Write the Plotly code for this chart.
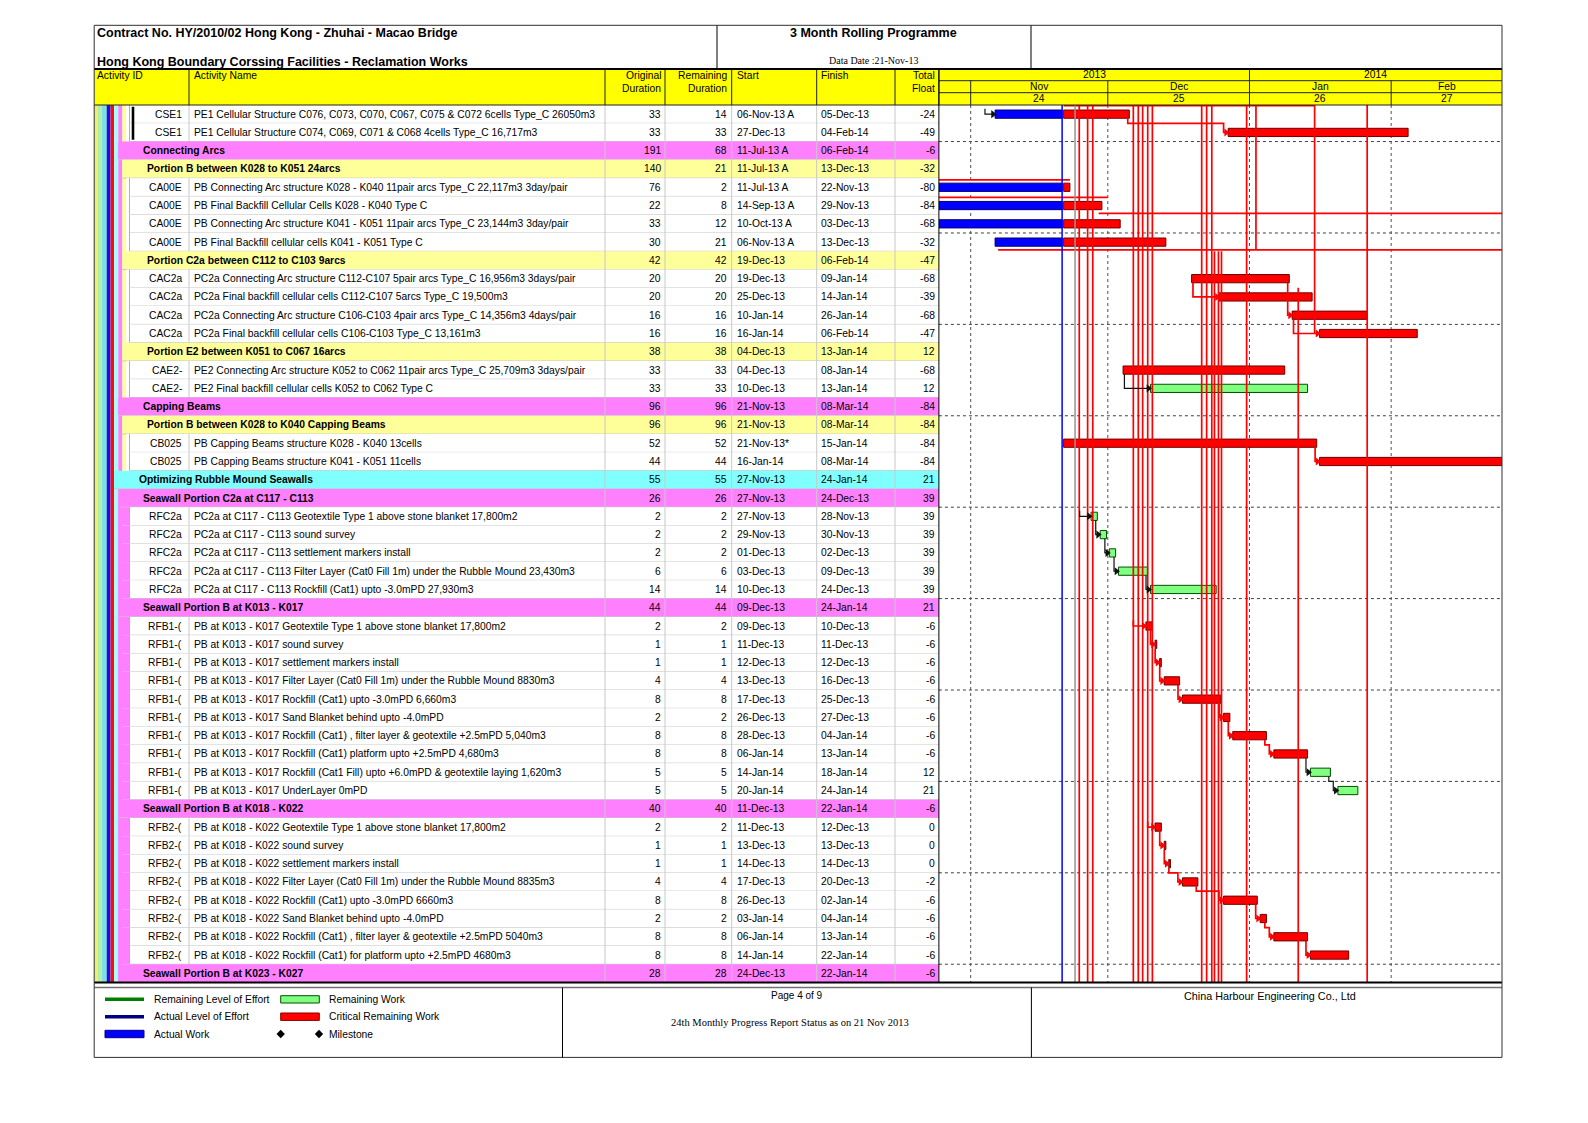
import plotly.graph_objects as go
import pandas as pd

# ---------------------------------------------------------------- DATA
activity_ids = (["CSE1", "CSE1", "", "", "CA00E", "CA00E", "CA00E", "CA00E", "",
                 "CAC2a", "CAC2a", "CAC2a", "CAC2a", "", "CAE2-", "CAE2-", "", "",
                 "CB025", "CB025", "", "", "RFC2a", "RFC2a", "RFC2a", "RFC2a", "RFC2a", ""]
                + ["RFB1-("] * 10 + [""] + ["RFB2-("] * 8 + [""])

activity_names = [
    "PE1 Cellular Structure C076, C073, C070, C067, C075 & C072 6cells Type_C 26050m3",
    "PE1 Cellular Structure C074, C069, C071 & C068 4cells Type_C 16,717m3",
    "Connecting Arcs",
    "Portion B between K028 to K051 24arcs",
    "PB Connecting Arc structure K028 - K040 11pair arcs Type_C 22,117m3 3day/pair",
    "PB Final Backfill Cellular Cells K028 - K040 Type C",
    "PB Connecting Arc structure K041 - K051 11pair arcs Type_C 23,144m3 3day/pair",
    "PB Final Backfill cellular cells K041 - K051 Type C",
    "Portion C2a between C112 to C103 9arcs",
    "PC2a Connecting Arc structure C112-C107 5pair arcs Type_C 16,956m3 3days/pair",
    "PC2a Final backfill cellular cells C112-C107 5arcs Type_C 19,500m3",
    "PC2a Connecting Arc structure C106-C103 4pair arcs Type_C 14,356m3 4days/pair",
    "PC2a Final backfill cellular cells C106-C103 Type_C 13,161m3",
    "Portion E2 between K051 to C067 16arcs",
    "PE2 Connecting Arc structure K052 to C062 11pair arcs Type_C 25,709m3 3days/pair",
    "PE2 Final backfill cellular cells K052 to C062 Type C",
    "Capping Beams",
    "Portion B between K028 to K040 Capping Beams",
    "PB Capping Beams structure K028 - K040 13cells",
    "PB Capping Beams structure K041 - K051 11cells",
    "Optimizing Rubble Mound Seawalls",
    "Seawall Portion C2a at C117 - C113",
    "PC2a at C117 - C113 Geotextile Type 1 above stone blanket 17,800m2",
    "PC2a at C117 - C113 sound survey",
    "PC2a at C117 - C113 settlement markers install",
    "PC2a at C117 - C113 Filter Layer (Cat0 Fill 1m) under the Rubble Mound 23,430m3",
    "PC2a at C117 - C113 Rockfill (Cat1) upto -3.0mPD 27,930m3",
    "Seawall Portion B at K013 - K017",
    "PB at K013 - K017 Geotextile Type 1 above stone blanket 17,800m2",
    "PB at K013 - K017 sound survey",
    "PB at K013 - K017 settlement markers install",
    "PB at K013 - K017 Filter Layer (Cat0 Fill 1m) under the Rubble Mound 8830m3",
    "PB at K013 - K017 Rockfill (Cat1) upto -3.0mPD 6,660m3",
    "PB at K013 - K017 Sand Blanket behind upto -4.0mPD",
    "PB at K013 - K017 Rockfill (Cat1) , filter layer & geotextile +2.5mPD 5,040m3",
    "PB at K013 - K017 Rockfill (Cat1) platform upto +2.5mPD 4,680m3",
    "PB at K013 - K017 Rockfill (Cat1 Fill) upto +6.0mPD & geotextile laying 1,620m3",
    "PB at K013 - K017 UnderLayer 0mPD",
    "Seawall Portion B at K018 - K022",
    "PB at K018 - K022 Geotextile Type 1 above stone blanket 17,800m2",
    "PB at K018 - K022 sound survey",
    "PB at K018 - K022 settlement markers install",
    "PB at K018 - K022 Filter Layer (Cat0 Fill 1m) under the Rubble Mound 8835m3",
    "PB at K018 - K022 Rockfill (Cat1) upto -3.0mPD 6660m3",
    "PB at K018 - K022 Sand Blanket behind upto -4.0mPD",
    "PB at K018 - K022 Rockfill (Cat1) , filter layer & geotextile +2.5mPD 5040m3",
    "PB at K018 - K022 Rockfill (Cat1) for platform upto +2.5mPD 4680m3",
    "Seawall Portion B at K023 - K027",
]

row_kinds = (["act", "act", "mag", "yel", "act", "act", "act", "act", "yel", "act", "act", "act", "act",
              "yel", "act", "act", "mag", "yel", "act", "act", "cyan", "mag",
              "act", "act", "act", "act", "act", "mag"]
             + ["act"] * 10 + ["mag"] + ["act"] * 8 + ["mag"])

original_durations = [33, 33, 191, 140, 76, 22, 33, 30, 42, 20, 20, 16, 16, 38, 33, 33, 96, 96, 52, 44,
                      55, 26, 2, 2, 2, 6, 14, 44, 2, 1, 1, 4, 8, 2, 8, 8, 5, 5, 40, 2, 1, 1, 4, 8, 2, 8, 8, 28]
remaining_durations = [14, 33, 68, 21, 2, 8, 12, 21, 42, 20, 20, 16, 16, 38, 33, 33, 96, 96, 52, 44,
                       55, 26, 2, 2, 2, 6, 14, 44, 2, 1, 1, 4, 8, 2, 8, 8, 5, 5, 40, 2, 1, 1, 4, 8, 2, 8, 8, 28]
start_labels = ["06-Nov-13 A", "27-Dec-13", "11-Jul-13 A", "11-Jul-13 A", "11-Jul-13 A", "14-Sep-13 A",
                "10-Oct-13 A", "06-Nov-13 A", "19-Dec-13", "19-Dec-13", "25-Dec-13", "10-Jan-14", "16-Jan-14",
                "04-Dec-13", "04-Dec-13", "10-Dec-13", "21-Nov-13", "21-Nov-13", "21-Nov-13*", "16-Jan-14",
                "27-Nov-13", "27-Nov-13", "27-Nov-13", "29-Nov-13", "01-Dec-13", "03-Dec-13", "10-Dec-13",
                "09-Dec-13", "09-Dec-13", "11-Dec-13", "12-Dec-13", "13-Dec-13", "17-Dec-13", "26-Dec-13",
                "28-Dec-13", "06-Jan-14", "14-Jan-14", "20-Jan-14", "11-Dec-13", "11-Dec-13", "13-Dec-13",
                "14-Dec-13", "17-Dec-13", "26-Dec-13", "03-Jan-14", "06-Jan-14", "14-Jan-14", "24-Dec-13"]
finish_labels = ["05-Dec-13", "04-Feb-14", "06-Feb-14", "13-Dec-13", "22-Nov-13", "29-Nov-13", "03-Dec-13",
                 "13-Dec-13", "06-Feb-14", "09-Jan-14", "14-Jan-14", "26-Jan-14", "06-Feb-14", "13-Jan-14",
                 "08-Jan-14", "13-Jan-14", "08-Mar-14", "08-Mar-14", "15-Jan-14", "08-Mar-14", "24-Jan-14",
                 "24-Dec-13", "28-Nov-13", "30-Nov-13", "02-Dec-13", "09-Dec-13", "24-Dec-13", "24-Jan-14",
                 "10-Dec-13", "11-Dec-13", "12-Dec-13", "16-Dec-13", "25-Dec-13", "27-Dec-13", "04-Jan-14",
                 "13-Jan-14", "18-Jan-14", "24-Jan-14", "22-Jan-14", "12-Dec-13", "13-Dec-13", "14-Dec-13",
                 "20-Dec-13", "02-Jan-14", "04-Jan-14", "13-Jan-14", "22-Jan-14", "22-Jan-14"]
total_floats = [-24, -49, -6, -32, -80, -84, -68, -32, -47, -68, -39, -68, -47, 12, -68, 12, -84, -84, -84, -84,
                21, 39, 39, 39, 39, 39, 39, 21, -6, -6, -6, -6, -6, -6, -6, -6, 12, 21, -6, 0, 0, 0, -2, -6,
                -6, -6, -6, -6]

data_date_label = "21-Nov-13"
timeline_window = ["2013-10-25 01:00", "2014-02-25 06:00"]
year_labels = ["2013", "2014"]
month_labels = ["Nov", "Dec", "Jan", "Feb"]
month_numbers = ["24", "25", "26", "27"]
month_firsts = ["2013-11-01", "2013-12-01", "2014-01-01", "2014-02-01", "2014-03-01"]

# relationships (1-based row numbers on this page)
link_pairs = [(1, 2, "FS"), (10, 11, "SS"), (10, 12, "FS"), (12, 13, "SS"), (15, 16, "SS"), (19, 20, "FS"),
              (23, 24, "FS"), (24, 25, "FS"), (25, 26, "FS"), (26, 27, "FS"),
              (29, 30, "FS"), (30, 31, "FS"), (31, 32, "FS"), (32, 33, "FS"), (33, 34, "FS"), (34, 35, "FS"),
              (35, 36, "FS"), (36, 37, "FS"), (37, 38, "FS"),
              (40, 41, "FS"), (41, 42, "FS"), (42, 43, "FS"), (43, 44, "FS"), (44, 45, "FS"), (45, 46, "FS"),
              (46, 47, "FS")]
incoming_rows = [1, 23, 29, 40]
incoming_from = ["2013-11-04 03:00", "2013-11-24 20:00", "2013-12-06 14:00", "2013-12-09 17:30"]
incoming_driving = [False, False, True, True]
through_link_dates = ["2013-11-24 18:00", "2013-11-26 14:00", "2013-11-27 17:00",
                      "2013-12-06 14:00", "2013-12-07 16:00", "2013-12-08 15:00", "2013-12-09 17:30",
                      "2013-12-10 18:00", "2013-12-21 13:00", "2013-12-22 15:00", "2013-12-23 18:00",
                      "2013-12-24 08:00", "2013-12-25 05:00", "2013-12-25 21:00", "2013-12-31 09:00",
                      "2014-01-11 16:00", "2014-01-26 18:00", "2014-01-02 10:00", "2014-01-15 06:00"]
through_link_top = [0, 0, 0, 0, 0, 0, 0, 0, 0, 0, 0, 8, 8, 8, 0, 10, 0, 0, 0]
through_link_bottom = [48] * 17 + [7.93, 12.5]
grey_link_date = "2013-11-23 20:00"
offpage_link_rows = [0.04, 4.1, 5.05, 5.93, 7.93]
offpage_link_from = ["2013-11-21 08:00", "2013-10-25 01:00", "2013-10-25 01:00", "2013-11-29 00:00",
                     "2013-11-07 00:00"]
offpage_link_to = ["2014-01-15 06:00", "2013-11-22 17:00", "2013-12-01 00:00", "2014-02-25 06:00",
                   "2014-02-25 06:00"]

# ---------------------------------------------------------------- GEOMETRY / STYLE
W, H = 1588, 1123
OFF = 8.0  # page body margin of the html page
FONT = "Liberation Sans, Arial, sans-serif"
SERIF = "Liberation Serif, Times New Roman, serif"
FS_ = 10.3

LEFT, RIGHT, TOP, BOTTOM = 94.2, 1502.0, 25.3, 1057.4
HDR_TOP, ROW_TOP, ROW_BOT = 69.0, 105.0, 982.5
C_NAME, C_OD, C_RD, C_ST, C_FI, C_TF, C_GANTT = 189.0, 605.0, 665.0, 731.7, 816.7, 895.0, 938.9
BAND_EDGES = [94.2, 97.3, 101.7, 106.7, 110.5, 114.2, 118.3, 122.4, 126.2]
BAND_COLORS = ["#EEEE70", "#B0EEB0", "#80E0E0", "#1010F0", "#F01010", "#A0FFFF", "#FF80FF", "#FFFF99"]
CELL_X = 129.5
KIND_FILL = {"cyan": "#80FFFF", "mag": "#FF80FF", "yel": "#FFFF99"}
KIND_LEVEL = {"cyan": 5, "mag": 6, "yel": 7}
N = len(activity_names)


def X(px):
    return (px - OFF) / W


def Y(py):
    return 1 - (py - OFF) / H


def parse(lbl):
    return pd.to_datetime(lbl.replace(" A", "").replace("*", "").strip(), format="%d-%b-%y")


HOUR = pd.Timedelta(hours=1)
DAY = pd.Timedelta(days=1)
data_date = parse(data_date_label)
shapes, annots = [], []


def rect(x0, x1, y0, y1, fill, lc=None, lw=0, xref="paper", yref="paper", layer="below"):
    shapes.append(dict(type="rect", x0=x0, x1=x1, y0=y0, y1=y1, xref=xref, yref=yref, layer=layer,
                       fillcolor=fill, line=dict(color=lc or fill, width=lw)))


def line(x0, x1, y0, y1, color, width=1, dash="solid", xref="paper", yref="paper", layer="below"):
    shapes.append(dict(type="line", x0=x0, x1=x1, y0=y0, y1=y1, xref=xref, yref=yref, layer=layer,
                       line=dict(color=color, width=width, dash=dash)))


def text(x, y, s, anchor="left", size=FS_, bold=False, family=FONT, yref="paper", xref="paper", color="black"):
    s = s.replace("&", "&amp;")
    if bold:
        s = "<b>" + s + "</b>"
    annots.append(dict(x=x, y=y, xref=xref, yref=yref, text=s, showarrow=False, xanchor=anchor,
                       yanchor="middle", borderpad=0, font=dict(family=family, size=size, color=color)))


# ---------------------------------------------------------------- TABLE BODY
for b in range(8):
    last = 20 if b == 7 else N
    rect(X(BAND_EDGES[b]), X(BAND_EDGES[b + 1]), 0, last, BAND_COLORS[b], yref="y")

parent = "yel"
for i in range(N):
    k = row_kinds[i]
    if k == "act":
        if parent == "mag":
            rect(X(BAND_EDGES[6]), X(CELL_X), i, i + 1, "#FF80FF", yref="y")
            rect(X(CELL_X), X(C_GANTT), i, i + 1, "white", yref="y")
        else:
            rect(X(BAND_EDGES[8]), X(C_GANTT), i, i + 1, "white", yref="y")
        line(X(CELL_X), X(C_GANTT), i + 1, i + 1, "#C8C8C8", yref="y")
        line(X(CELL_X), X(CELL_X), i, i + 1, "#B0B0B0", yref="y")
        line(X(C_NAME), X(C_NAME), i, i + 1, "#C8C8C8", yref="y")
        text(X(183), i + 0.5, activity_ids[i], anchor="right", yref="y")
        text(X(192.5), i + 0.5, activity_names[i], yref="y")
    else:
        parent = k
        x0 = BAND_EDGES[KIND_LEVEL[k]]
        rect(X(x0), X(C_GANTT), i, i + 1, KIND_FILL[k], yref="y")
        line(X(x0), X(C_GANTT), i + 1, i + 1, "#C8C8C8", yref="y")
        text(X(x0 + 23.5), i + 0.5, activity_names[i], bold=True, yref="y")
    text(X(661.5), i + 0.5, str(original_durations[i]), anchor="right", yref="y")
    text(X(728), i + 0.5, str(remaining_durations[i]), anchor="right", yref="y")
    text(X(735.5), i + 0.5, start_labels[i], yref="y")
    text(X(820), i + 0.5, finish_labels[i], yref="y")
    text(X(936), i + 0.5, str(total_floats[i]), anchor="right", yref="y")

rect(X(131.7), X(134.3), 0.1, 1.9, "black", yref="y")
for cx in [C_OD, C_RD, C_ST, C_FI, C_TF]:
    line(X(cx), X(cx), 0, N, "#C8C8C8", yref="y")

# ---------------------------------------------------------------- HEADER & TITLE
rect(X(LEFT), X(RIGHT), Y(ROW_TOP), Y(HDR_TOP), "#FFFF00")
for cx in [C_NAME, C_OD, C_RD, C_ST, C_FI, C_TF, C_GANTT]:
    line(X(cx), X(cx), Y(ROW_TOP), Y(HDR_TOP), "#202020", 1, layer="above")
line(X(LEFT), X(RIGHT), Y(HDR_TOP), Y(HDR_TOP), "black", 2, layer="above")
line(X(LEFT), X(RIGHT), Y(ROW_TOP), Y(ROW_TOP), "#202020", 1, layer="above")
line(X(C_GANTT), X(RIGHT), Y(80.7), Y(80.7), "#202020", 1, layer="above")
line(X(C_GANTT), X(RIGHT), Y(92.7), Y(92.7), "#202020", 1, layer="above")

text(X(95.5), Y(76), "Activity ID")
text(X(193), Y(76), "Activity Name")
text(X(661.5), Y(76), "Original", anchor="right")
text(X(661.5), Y(88.5), "Duration", anchor="right")
text(X(728), Y(76), "Remaining", anchor="right")
text(X(728), Y(88.5), "Duration", anchor="right")
text(X(735.5), Y(76), "Start")
text(X(820), Y(76), "Finish")
text(X(936), Y(76), "Total", anchor="right")
text(X(936), Y(88.5), "Float", anchor="right")

# timescale header
win0, win1 = pd.Timestamp(timeline_window[0]), pd.Timestamp(timeline_window[1])
mf = [pd.Timestamp(m) for m in month_firsts]
year_split = mf[2]
for lbl, a, b in zip(year_labels, [win0, year_split], [year_split, win1]):
    text(a + (b - a) / 2, Y(75), lbl, anchor="center", xref="x")
line(year_split, year_split, Y(80.7), Y(HDR_TOP), "#202020", 1, xref="x", layer="above")
for j in range(4):
    a, b = max(mf[j], win0), min(mf[j + 1], win1)
    text(a + (b - a) / 2, Y(86.8), month_labels[j], anchor="center", xref="x")
    text(a + (b - a) / 2, Y(98.6), month_numbers[j], anchor="center", xref="x")
    line(mf[j], mf[j], Y(ROW_TOP), Y(80.7), "#202020", 1, xref="x", layer="above")

# title block
line(X(717), X(717), Y(HDR_TOP), Y(TOP), "black", 1, layer="above")
line(X(1031), X(1031), Y(HDR_TOP), Y(TOP), "black", 1, layer="above")
text(X(96), Y(33.3), "Contract No. HY/2010/02 Hong Kong - Zhuhai - Macao Bridge", size=12.5, bold=True)
text(X(96), Y(62.3), "Hong Kong Boundary Corssing Facilities - Reclamation Works", size=12.5, bold=True)
text(X(873), Y(33.3), "3 Month Rolling Programme", anchor="center", size=12.5, bold=True)
text(X(873), Y(60.8), "Data Date :" + data_date_label, anchor="center", size=10, family=SERIF)

# ---------------------------------------------------------------- GANTT GRID
for g in range(2, N, 5):
    line(X(C_GANTT), X(RIGHT), g, g, "#404040", 1, dash="dot", yref="y")
for m in mf[:4]:
    line(m, m, 0, N, "#505050", 1, dash="dot", xref="x", yref="y")

# frame
line(X(C_GANTT), X(C_GANTT), Y(ROW_BOT), Y(HDR_TOP), "black", 1, layer="above")
line(X(LEFT), X(RIGHT), Y(ROW_BOT), Y(ROW_BOT), "black", 2, layer="above")
line(X(LEFT), X(RIGHT), Y(987.5), Y(987.5), "#707070", 1.5, layer="above")
rect(X(LEFT), X(RIGHT), Y(BOTTOM), Y(TOP), "rgba(0,0,0,0)", "#303030", 1, layer="above")
line(X(562.5), X(562.5), Y(BOTTOM), Y(987.5), "black", 1, layer="above")
line(X(1031.4), X(1031.4), Y(BOTTOM), Y(987.5), "black", 1, layer="above")

# ---------------------------------------------------------------- FOOTER / LEGEND
rect(X(105), X(144), Y(1001), Y(997.5), "#008000")
text(X(152.7), Y(999.3), "Remaining Level of Effort")
rect(X(280.7), X(319.3), Y(1003), Y(995.7), "#80FF80", "#005000", 1)
text(X(328.3), Y(999.3), "Remaining Work")
rect(X(105), X(144), Y(1018.5), Y(1015), "#000080")
text(X(152.7), Y(1016.7), "Actual Level of Effort")
rect(X(280.7), X(319.3), Y(1020.4), Y(1013), "#FF0000", "#800000", 1)
text(X(328.3), Y(1016.7), "Critical Remaining Work")
rect(X(105), X(144), Y(1037.7), Y(1030.3), "#0000FF", "#000080", 1)
text(X(152.7), Y(1034), "Actual Work")
for dx in [280.7, 319.0]:
    cx, cy, r = X(dx), Y(1034), 4.2
    shapes.append(dict(type="path", xref="paper", yref="paper", fillcolor="black", line=dict(color="black", width=0),
                       path=f"M {cx - r / W},{cy} L {cx},{cy + r / H} L {cx + r / W},{cy} L {cx},{cy - r / H} Z"))
text(X(328.3), Y(1034), "Milestone")
text(X(797), Y(995.8), "Page 4 of 9", anchor="center", size=10)
text(X(790), Y(1022.5), "24th Monthly Progress Report Status as on 21 Nov 2013", anchor="center", size=10.5,
     family=SERIF)
text(X(1270), Y(995.8), "China Harbour Engineering Co., Ltd", anchor="center", size=10.8)

# ---------------------------------------------------------------- BARS
bar_start, bar_end = {}, {}
actual_bars, crit_bars, rem_bars = [], [], []
for i in range(N):
    if row_kinds[i] != "act":
        continue
    st, fi = parse(start_labels[i]), parse(finish_labels[i])
    end = fi + 17 * HOUR
    if start_labels[i].endswith("A"):
        actual_bars.append((i, st + 8 * HOUR, data_date))
        rs = data_date + 8 * HOUR
    else:
        rs = st + 8 * HOUR
    bar_start[i], bar_end[i] = (st + 8 * HOUR), end
    (crit_bars if total_floats[i] <= 0 else rem_bars).append((i, rs, end))


def bar_trace(items, fill, edge):
    return go.Bar(orientation="h", y=[r + 0.5 for r, a, b in items], base=[a for r, a, b in items],
                  x=[(b - a).total_seconds() * 1000 for r, a, b in items], width=0.45,
                  marker=dict(color=fill, line=dict(color=edge, width=1)), hoverinfo="skip", showlegend=False)


# ---------------------------------------------------------------- RELATIONSHIP LINES
red_x, red_y, blk_x, blk_y = [], [], [], []
red_ax, red_ay, blk_ax, blk_ay = [], [], [], []

for d, t, b in zip(through_link_dates, through_link_top, through_link_bottom):
    red_x += [pd.Timestamp(d), pd.Timestamp(d), None]
    red_y += [t, b, None]
for r, a, b in zip(offpage_link_rows, offpage_link_from, offpage_link_to):
    red_x += [pd.Timestamp(a), pd.Timestamp(b), None]
    red_y += [r, r, None]

for p1, s1, kind in link_pairs:
    p, s = p1 - 1, s1 - 1
    crit = total_floats[s] <= 0
    xs = bar_start[s]
    ys = s + 0.5
    yb = p + 0.5 + 0.23
    if kind == "SS":
        xa = bar_start[p] + 0.3 * DAY
        px_, py_ = [xa, xa, xs - 0.5 * DAY], [yb, ys, ys]
    else:
        xe = bar_end[p] - 0.35 * DAY
        xt = xs - 1.0 * DAY
        if xe - 1.5 * DAY < xt < xe + 0.4 * DAY:
            px_, py_ = [xe, xe, xs - 0.5 * DAY], [yb, ys, ys]
        else:
            yh = s
            px_, py_ = [xe, xe, xt, xt, xs - 0.5 * DAY], [yb, yh, yh, ys, ys]
    if crit:
        red_x += px_ + [None]; red_y += py_ + [None]; red_ax.append(xs - 0.45 * DAY); red_ay.append(ys)
    else:
        blk_x += px_ + [None]; blk_y += py_ + [None]; blk_ax.append(xs - 0.45 * DAY); blk_ay.append(ys)

for r1, a, drv in zip(incoming_rows, incoming_from, incoming_driving):
    r = r1 - 1
    xs = bar_start[r]
    seg_x, seg_y = [pd.Timestamp(a), pd.Timestamp(a), xs - 0.5 * DAY, None], [r + 0.2, r + 0.5, r + 0.5, None]
    if drv:
        red_x += seg_x; red_y += seg_y; red_ax.append(xs - 0.45 * DAY); red_ay.append(r + 0.5)
    else:
        blk_x += seg_x; blk_y += seg_y; blk_ax.append(xs - 0.45 * DAY); blk_ay.append(r + 0.5)

traces = [
    go.Scatter(x=red_x, y=red_y, mode="lines", line=dict(color="#FF0000", width=1.7), hoverinfo="skip",
               showlegend=False, connectgaps=False),
    go.Scatter(x=[pd.Timestamp(grey_link_date)] * 2, y=[0, N], mode="lines", line=dict(color="#A09090", width=1.5),
               hoverinfo="skip", showlegend=False),
    go.Scatter(x=blk_x, y=blk_y, mode="lines", line=dict(color="#101010", width=1.2), hoverinfo="skip",
               showlegend=False, connectgaps=False),
    go.Scatter(x=[data_date, data_date], y=[0, N], mode="lines", line=dict(color="#0000FF", width=1.5),
               hoverinfo="skip", showlegend=False),
    bar_trace(actual_bars, "#0000FF", "#000070"),
    bar_trace(crit_bars, "#FF0000", "#700000"),
    bar_trace(rem_bars, "#80FF80", "#005000"),
    go.Scatter(x=red_ax, y=red_ay, mode="markers", marker=dict(symbol="triangle-right", size=7, color="#FF0000"),
               hoverinfo="skip", showlegend=False),
    go.Scatter(x=blk_ax, y=blk_ay, mode="markers", marker=dict(symbol="triangle-right", size=7, color="#101010"),
               hoverinfo="skip", showlegend=False),
]

fig = go.Figure(traces)
fig.update_layout(
    width=W, height=H, margin=dict(l=0, r=0, t=0, b=0), paper_bgcolor="white", plot_bgcolor="rgba(0,0,0,0)",
    barmode="overlay", showlegend=False, shapes=shapes, annotations=annots,
    xaxis=dict(type="date", range=timeline_window, domain=[X(C_GANTT), X(RIGHT)], showgrid=False,
               showticklabels=False, zeroline=False, showline=False, ticks=""),
    yaxis=dict(range=[N, 0], domain=[Y(ROW_BOT), Y(ROW_TOP)], showgrid=False, showticklabels=False,
               zeroline=False, showline=False, ticks=""),
)
fig.write_html("out.html")
